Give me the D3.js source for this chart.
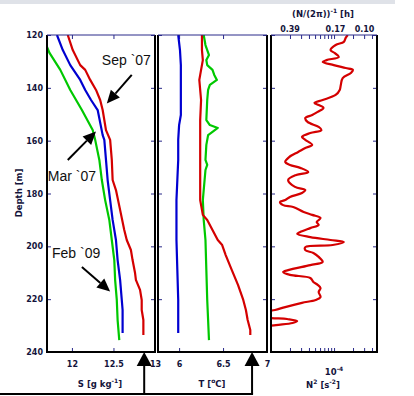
<!DOCTYPE html>
<html>
<head>
<meta charset="utf-8">
<script src="https://cdn.jsdelivr.net/npm/d3@7"></script>
<style>
  body { margin: 0; background: #fff; }
  svg { display: block; }
  .tick text { font-family: "DejaVu Sans", sans-serif; font-weight: bold; font-size: 8px; fill: #14143c; }
  .lab { font-family: "DejaVu Sans", sans-serif; font-weight: bold; font-size: 8.5px; fill: #14143c; }
  .ann { font-family: "Liberation Sans", Arial, sans-serif; font-size: 14px; fill: #111; }
</style>
</head>
<body>
<div id="chart"></div>
<script>
// tick values
const depthTicks = [120, 140, 160, 180, 200, 220, 240];
const sTicks = [12, 12.5, 13];
const tTicks = [6, 6.5, 7];
const periodTicks = [0.39, 0.17, 0.10];   // (N/2pi)^-1 in hours

// salinity [g/kg] profiles
const sepSDepth = [120, 125.7, 131.4, 133.2, 137, 140.8, 144.6, 148.4, 156, 159.7, 167.3, 174.9, 178.7, 186.2, 193.8, 197.6, 201.4, 205.2, 210.1, 212.7, 216.5, 220.3, 224.1, 227.9, 233.6];
const sepS      = [11.95, 12.01, 12.10, 12.16, 12.22, 12.29, 12.34, 12.37, 12.41, 12.46, 12.48, 12.49, 12.53, 12.58, 12.63, 12.66, 12.71, 12.73, 12.76, 12.77, 12.82, 12.84, 12.84, 12.86, 12.86];
const marSDepth = [120, 125.7, 131.4, 137, 140.8, 144.6, 148.4, 157.9, 159.7, 167.3, 174.9, 182.5, 190, 197.6, 205.2, 212.7, 216.5, 220.3, 224.1, 227.9, 232.8];
const marS      = [11.82, 11.89, 11.98, 12.10, 12.16, 12.23, 12.31, 12.37, 12.39, 12.41, 12.43, 12.46, 12.49, 12.53, 12.55, 12.58, 12.59, 12.60, 12.61, 12.61, 12.61];
const febSDepth = [120, 124.5, 126.8, 133.2, 140.8, 148.4, 156, 159.7, 167.3, 174.9, 182.5, 190, 197.6, 205.2, 212.7, 220.3, 227.9, 235.5];
const febS      = [11.62, 11.70, 11.73, 11.86, 11.98, 12.12, 12.25, 12.28, 12.33, 12.36, 12.40, 12.45, 12.48, 12.51, 12.52, 12.54, 12.55, 12.57];

// temperature [C] profiles
const sepTDepth = [120, 125.7, 129.5, 135.1, 137, 144.6, 152.2, 167.3, 182.5, 186.2, 188.1, 190, 193.8, 197.6, 199.5, 203.3, 209, 214.6, 220.3, 224.1, 227.9, 231.7, 233.6];
const sepT      = [6.26, 6.26, 6.27, 6.24, 6.23, 6.25, 6.24, 6.24, 6.24, 6.26, 6.27, 6.32, 6.38, 6.44, 6.49, 6.53, 6.60, 6.67, 6.73, 6.76, 6.78, 6.81, 6.81];
const marTDepth = [120, 125.7, 131.4, 137, 144.6, 150.3, 154.1, 159.7, 167.3, 174.9, 182.5, 197.6, 209, 220.3, 232.8];
const marT      = [5.99, 6.01, 6.02, 6.02, 6.02, 6.02, 6.00, 5.99, 5.99, 5.98, 5.97, 5.97, 5.98, 5.99, 5.99];
const febTDepth = [120, 123.8, 127.6, 129.5, 131.4, 133.2, 135.1, 137, 138.9, 140.8, 144.6, 152.2, 154.1, 155.2, 156.7, 157.9, 161.6, 167.3, 169.2, 171.1, 182.5, 190, 197.6, 209, 220.3, 227.9, 235.5];
const febT      = [6.28, 6.30, 6.34, 6.31, 6.32, 6.38, 6.40, 6.43, 6.35, 6.33, 6.32, 6.31, 6.35, 6.44, 6.38, 6.33, 6.31, 6.30, 6.32, 6.30, 6.27, 6.28, 6.30, 6.31, 6.32, 6.33, 6.34];

// buoyancy frequency N^2 [s^-2], Sep '07
const n2Depth = [120, 121.1, 122.6, 123.8, 125.7, 126.8, 128.3, 129.5, 130.2, 131.4, 132.5, 133.2, 134.4, 136.3, 138.9, 140.8, 142.7, 144.6, 145.7, 146.5, 147.6, 149.1, 150.3, 151.4, 152.9, 154.8, 156, 157.1, 158.6, 159.7, 161.6, 162.8, 164.3, 166.2, 168.1, 169.2, 170.3, 171.9, 173, 174.9, 177.5, 178.7, 179.8, 181.3, 182.5, 183.2, 184.4, 185.1, 187, 188.1, 189.3, 190.8, 191.9, 193.1, 194.6, 195.3, 196.5, 197.6, 198.4, 199.5, 200.3, 201.4, 202.5, 204, 205.9, 207.1, 209, 209.7, 210.8, 212, 213.5, 214.6, 215.8, 217.3, 219.2, 220.3, 221.4, 223, 224.1, 225.2, 226.7, 227.5, 228.3, 229, 229.8, 230.6, 231.7];
const n2      = [1.65e-4, 1.53e-4, 1.43e-4, 1.06e-4, 8.8e-5, 1.02e-4, 1.19e-4, 7.6e-5, 6.6e-5, 9.9e-5, 1.53e-4, 1.99e-4, 1.85e-4, 1.37e-4, 1.28e-4, 1.23e-4, 1.06e-4, 6.6e-5, 4.9e-5, 5.7e-5, 6.8e-5, 5.5e-5, 4.5e-5, 3.5e-5, 3.8e-5, 5.7e-5, 6.3e-5, 4.2e-5, 3.1e-5, 3.5e-5, 4.5e-5, 3.5e-5, 2.7e-5, 1.94e-5, 1.68e-5, 2.0e-5, 2.9e-5, 3.9e-5, 2.5e-5, 1.87e-5, 2.4e-5, 3.5e-5, 3.1e-5, 2.0e-5, 1.68e-5, 1.39e-5, 1.56e-5, 2.25e-5, 3.3e-5, 4.5e-5, 6.1e-5, 5.3e-5, 5.7e-5, 4.2e-5, 2.9e-5, 2.6e-5, 4.2e-5, 8.8e-5, 1.43e-4, 9.5e-5, 3.5e-5, 3.5e-5, 4.7e-5, 5.7e-5, 6.6e-5, 4.2e-5, 1.87e-5, 1.56e-5, 2.0e-5, 4.2e-5, 4.7e-5, 5.5e-5, 6.1e-5, 5.7e-5, 6.1e-5, 5.1e-5, 3.1e-5, 1.68e-5, 1.16e-5, 0.7e-5, 0.8e-5, 1.8e-5, 2.6e-5, 2.2e-5, 1.2e-5, 0.7e-5, 0.6e-5];

// marked values (arrows under the S and T panels)
const markS = 12.87;
const markT = 6.83;

const W = 414, H = 396;
const red = "#d40000", blue = "#0000d0", green = "#00c800";
const navy = "#2a2a8a";

const svg = d3.select("#chart").append("svg")
  .attr("width", W).attr("height", H);

svg.append("rect").attr("x", 0).attr("y", 0).attr("width", 395).attr("height", 4).attr("fill", "#dfe2e8");

// Shared depth axis
const y = d3.scaleLinear().domain([120, 240]).range([35, 352]);

const xS = d3.scaleLinear().domain([11.7, 13]).range([47, 155]);
const xT = d3.scaleLinear().domain([5.76, 7]).range([158, 267]);
const xN = d3.scaleLog().domain([1e-5, 4.8e-4]).range([271, 377]);

function panel(id, x, bottomTicks, bottomFormat) {
  const [x0, x1] = x.range();
  const g = svg.append("g");

  g.append("clipPath").attr("id", id)
    .append("rect").attr("x", x0).attr("y", y(120)).attr("width", x1 - x0).attr("height", y(240) - y(120));

  // inside ticks, matlab style
  const left = g.append("g").attr("transform", "translate(" + x0 + ",0)")
    .call(d3.axisLeft(y).tickValues(depthTicks).tickSize(-4).tickPadding(4)
      .tickFormat(id === "cS" ? d3.format("d") : ""));
  const right = g.append("g").attr("transform", "translate(" + x1 + ",0)")
    .call(d3.axisRight(y).tickValues(depthTicks).tickSize(-4).tickFormat(""));
  const bottom = g.append("g").attr("transform", "translate(0," + y(240) + ")")
    .call(d3.axisBottom(x).tickValues(bottomTicks).tickSize(-4).tickPadding(9).tickFormat(bottomFormat));
  const top = g.append("g").attr("transform", "translate(0," + y(120) + ")")
    .call(d3.axisTop(x).tickValues(bottomTicks).tickSize(-4).tickFormat(""));
  [left, right, bottom, top].forEach(a => {
    a.select(".domain").remove();
    a.selectAll(".tick line").attr("stroke", navy);
  });
  return g;
}

function frame(x) {
  const [x0, x1] = x.range();
  svg.append("path")
    .attr("d", "M" + x0 + "," + y(120) + "V" + y(240) + "H" + x1 + "V" + y(120))
    .attr("fill", "none").attr("stroke", "#000").attr("stroke-width", 2);
  svg.append("line").attr("x1", x0).attr("x2", x1).attr("y1", y(120)).attr("y2", y(120))
    .attr("stroke", navy).attr("stroke-width", 1);
}

function profile(g, clip, x, vals, depths, color, curve) {
  const line = d3.line().x(d => x(d[0])).y(d => y(d[1])).curve(curve || d3.curveLinear);
  g.append("path")
    .datum(d3.zip(vals, depths))
    .attr("clip-path", "url(#" + clip + ")")
    .attr("d", line)
    .attr("fill", "none").attr("stroke", color).attr("stroke-width", 2.2)
    .attr("stroke-linejoin", "round");
}

// ---- Salinity
const gS = panel("cS", xS, sTicks, d3.format("~g"));
profile(gS, "cS", xS, febS, febSDepth, green);
profile(gS, "cS", xS, marS, marSDepth, blue);
profile(gS, "cS", xS, sepS, sepSDepth, red);

// ---- Temperature
const gT = panel("cT", xT, tTicks, d3.format("~g"));
profile(gT, "cT", xT, marT, marTDepth, blue);
profile(gT, "cT", xT, febT, febTDepth, green);
profile(gT, "cT", xT, sepT, sepTDepth, red);

// ---- N^2
const logTicks = xN.ticks();
const gN = panel("cN", xN, logTicks, "");
profile(gN, "cN", xN, n2, n2Depth, red, d3.curveCatmullRom);

[xS, xT, xN].forEach(frame);

// top axis in period units
const periodToN2 = p => Math.pow(2 * Math.PI / (p * 3600), 2);
svg.selectAll(".ptick").data(periodTicks).enter().append("text")
  .attr("class", "lab")
  .attr("x", d => xN(periodToN2(d)))
  .attr("y", 32)
  .attr("text-anchor", "middle")
  .style("font-size", "8px")
  .text(d => d3.format(".2f")(d));

// axis labels
const tl = svg.append("text").attr("class", "lab").attr("x", 323).attr("y", 17).attr("text-anchor", "middle");
tl.append("tspan").text("(N/(2π))");
tl.append("tspan").attr("dy", -4).style("font-size", "6px").text("-1");
tl.append("tspan").attr("dy", 4).text(" [h]");

svg.append("text").attr("class", "lab")
  .attr("transform", "translate(22,193) rotate(-90)")
  .attr("text-anchor", "middle")
  .text("Depth [m]");

const sl = svg.append("text").attr("class", "lab").attr("x", 100).attr("y", 387).attr("text-anchor", "middle");
sl.append("tspan").text("S [g kg");
sl.append("tspan").attr("dy", -4).style("font-size", "6px").text("-1");
sl.append("tspan").attr("dy", 4).text("]");

const tlab = svg.append("text").attr("class", "lab").attr("x", 212).attr("y", 387).attr("text-anchor", "middle");
tlab.append("tspan").text("T [");
tlab.append("tspan").attr("dy", -4).style("font-size", "6px").text("o");
tlab.append("tspan").attr("dy", 4).text("C]");

const e4 = svg.append("text").attr("class", "lab").attr("x", xN(1e-4)).attr("y", 375).attr("text-anchor", "middle");
e4.append("tspan").text("10");
e4.append("tspan").attr("dy", -4).style("font-size", "6px").text("-4");

const nl = svg.append("text").attr("class", "lab").attr("x", 323).attr("y", 388).attr("text-anchor", "middle");
nl.append("tspan").text("N");
nl.append("tspan").attr("dy", -4).style("font-size", "6px").text("2");
nl.append("tspan").attr("dy", 4).text(" [s");
nl.append("tspan").attr("dy", -4).style("font-size", "6px").text("-2");
nl.append("tspan").attr("dy", 4).text("]");

// ---- annotations in the salinity panel
function arrow(x0, y0, x1, y1, head, half) {
  const a = Math.atan2(y1 - y0, x1 - x0);
  const bx = x1 - head * Math.cos(a), by = y1 - head * Math.sin(a);
  const nx = -Math.sin(a) * half, ny = Math.cos(a) * half;
  svg.append("line").attr("x1", x0).attr("y1", y0).attr("x2", bx).attr("y2", by)
    .attr("stroke", "#000").attr("stroke-width", 2);
  svg.append("path")
    .attr("d", "M" + x1 + "," + y1 + "L" + (bx + nx) + "," + (by + ny) + "L" + (bx - nx) + "," + (by - ny) + "Z")
    .attr("fill", "#000");
}

const notes = [
  { text: "Sep `07", s: 12.36, d: 131.4, from: [12.72, 135.1], to: [12.42, 145.9] },
  { text: "Mar `07", s: 11.71, d: 175.3, from: [11.95, 167.3], to: [12.29, 156.5] },
  { text: "Feb `09", s: 11.76, d: 204.4, from: [12.12, 207.8], to: [12.46, 217.1] }
];
notes.forEach(n => {
  svg.append("text").attr("class", "ann").attr("x", xS(n.s)).attr("y", y(n.d)).text(n.text);
  arrow(xS(n.from[0]), y(n.from[1]), xS(n.to[0]), y(n.to[1]), 13, 6);
});

// arrows below S and T panels
const base = 394;
[xS(markS), xT(markT)].forEach(px => {
  svg.append("path")
    .attr("d", "M" + px + "," + y(240) + "L" + (px + 7.5) + "," + (y(240) + 14) + "L" + (px - 7.5) + "," + (y(240) + 14) + "Z")
    .attr("fill", "#000");
  svg.append("line").attr("x1", px).attr("x2", px).attr("y1", y(240) + 13).attr("y2", base)
    .attr("stroke", "#000").attr("stroke-width", 2);
});
svg.append("line").attr("x1", 0).attr("x2", xT(markT) + 1).attr("y1", base).attr("y2", base)
  .attr("stroke", "#000").attr("stroke-width", 2);
</script>
</body>
</html>
